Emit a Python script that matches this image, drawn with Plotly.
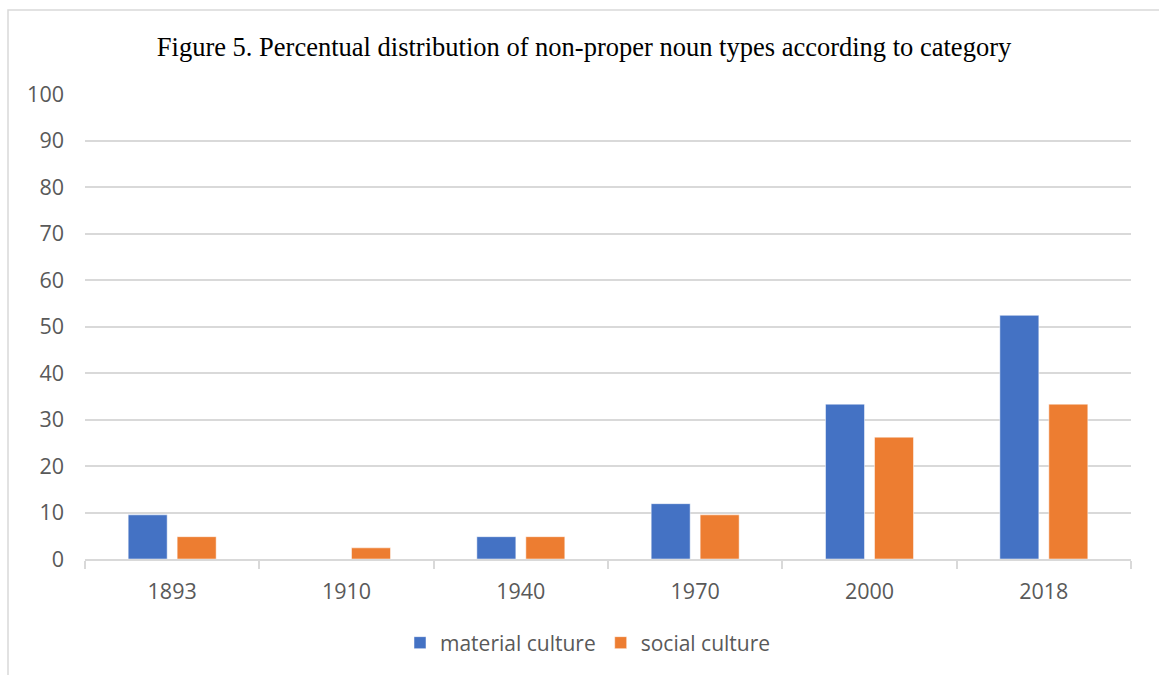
import plotly.graph_objects as go

years = ["1893", "1910", "1940", "1970", "2000", "2018"]
material = [9.5, 0, 4.8, 11.9, 33.3, 52.4]
social = [4.8, 2.4, 4.8, 9.5, 26.2, 33.3]
y_ticks = [0, 10, 20, 30, 40, 50, 60, 70, 80, 90, 100]

L, R, T, B = 85, 28, 94, 116
W, H = 1159, 675
pw, ph = W - L - R, H - T - B

fig = go.Figure()
fig.add_trace(go.Bar(x=years, y=material, name="material culture", marker_color="#4472C4",
                     marker_line=dict(color="#ffffff", width=0.5)))
fig.add_trace(go.Bar(x=years, y=social, name="social culture", marker_color="#ED7D31",
                     marker_line=dict(color="#ffffff", width=0.5)))

font_tick = dict(family="Open Sans", size=21.5, color="#595959")
font_leg = dict(family="Open Sans", size=21, color="#595959")

fig.update_layout(
    width=W, height=H,
    margin=dict(l=L, r=R, t=T, b=B, autoexpand=False),
    paper_bgcolor="white", plot_bgcolor="white",
    barmode="group", bargap=0.438, bargroupgap=0.204,
    title=dict(text="Figure 5. Percentual distribution of non-proper noun types according to category",
               x=584 / W, xanchor="center", y=1 - 47 / H, yanchor="middle",
               font=dict(family="Liberation Serif", size=26.5, color="#000000")),
    showlegend=True,
    legend=dict(orientation="h", x=0.5 - 20 / pw, xanchor="center", y=-(643 - (H - B)) / ph, yanchor="middle",
                font=font_leg, itemwidth=30, traceorder="normal"),
    xaxis=dict(showline=True, linecolor="#d9d9d9", linewidth=1.5, ticks="outside", tickson="boundaries",
               ticklen=8, tickcolor="#d9d9d9", tickwidth=1.5, tickfont=font_tick, showgrid=False,
               ticklabelstandoff=12),
    yaxis=dict(range=[0, 100], tickvals=y_ticks, showgrid=True, gridcolor="#d9d9d9", gridwidth=1.5,
               zeroline=False, showline=False, tickfont=font_tick, ticklabelstandoff=20),
    shapes=[dict(type="rect", xref="paper", yref="paper",
                 x0=(8 - L) / pw, x1=(W + 20 - L) / pw,
                 y0=-(H + 20 - (H - B)) / ph, y1=((H - B) - 10) / ph,
                 line=dict(color="#d9d9d9", width=1.5), fillcolor="rgba(0,0,0,0)", layer="below")],
)

fig.write_html("out.html")
